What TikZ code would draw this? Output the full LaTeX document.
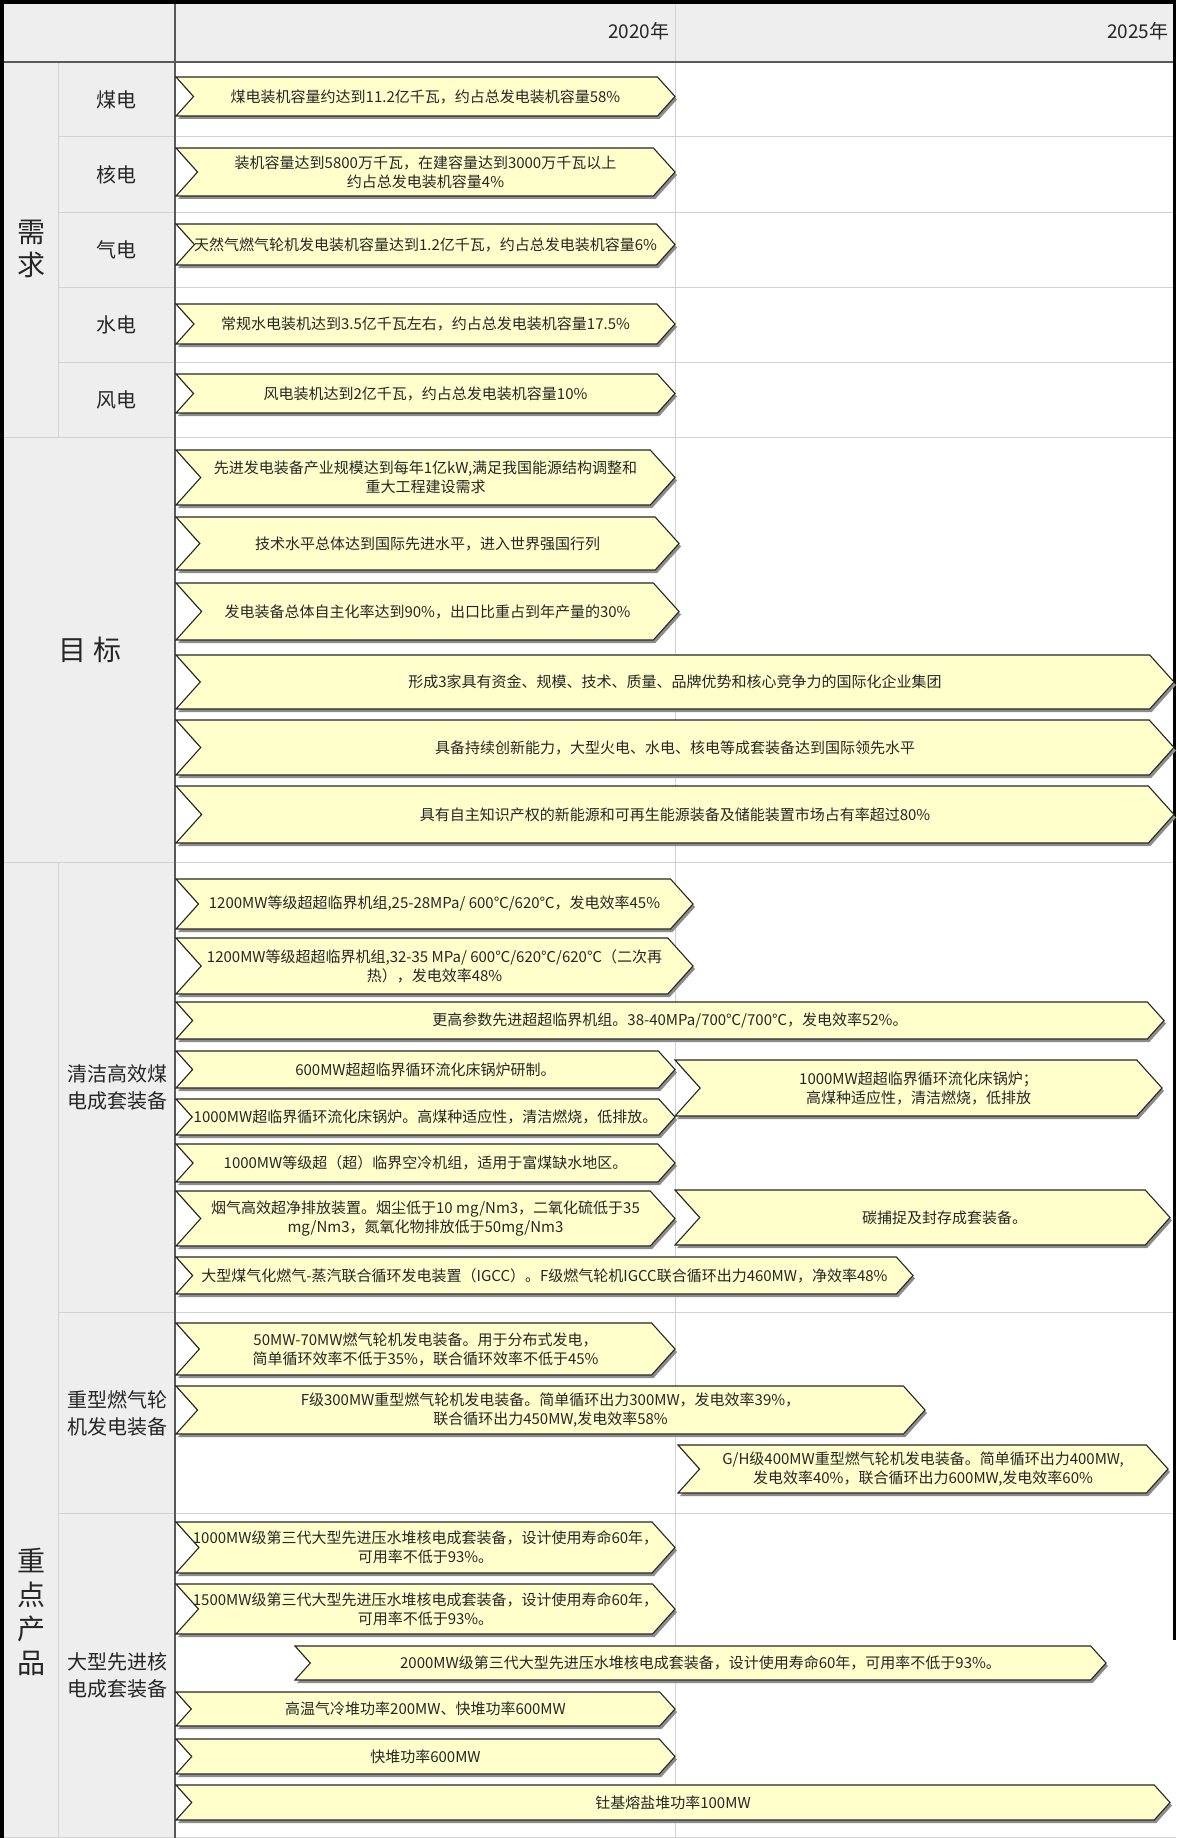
\documentclass[tikz,border=0pt]{standalone}
\usepackage{fontspec}
\setmainfont{Noto Sans CJK SC}
\definecolor{cellgray}{HTML}{EEEEEE}
\definecolor{gridgray}{HTML}{D2D2D2}
\definecolor{baryellow}{HTML}{FFFFCC}
\tikzset{
  barbox/.style={fill=baryellow, draw=black!85, line width=1.1pt, line join=miter},
  barshade/.style={fill=black!45, xshift=2pt, yshift=-3pt},
  bartext/.style={align=center, inner sep=0pt, text=black!85, font=\fontsize{15}{19}\selectfont},
  rowlabel/.style={align=center, text=black!85, font=\fontsize{20}{27}\selectfont},
  seclabel/.style={align=center, text=black!85, font=\fontsize{28}{34}\selectfont},
  yearlabel/.style={anchor=east, text=black!85, font=\fontsize{19}{22}\selectfont},
  gridline/.style={draw=gridgray, line width=1pt},
  mainline/.style={draw=black!65, line width=2pt}
}
% chevron bar: [text options]{name}{x left}{x right}{y top}{y bottom}{text}
\newcommand\chevbar[7][]{%
  \pgfmathsetmacro\cd{0.45*(#6-#5)}%
  \pgfmathsetmacro\cm{(#5+#6)/2}%
  \fill[barshade] (#3,#5) -- ({#4-\cd},#5) -- (#4,\cm) -- ({#4-\cd},#6) -- (#3,#6) -- ({#3+\cd},\cm) -- cycle;
  \draw[barbox] (#3,#5) -- ({#4-\cd},#5) -- (#4,\cm) -- ({#4-\cd},#6) -- (#3,#6) -- ({#3+\cd},\cm) -- cycle;
  \node[bartext,#1] (#2) at ({(#3+#4)/2},\cm) {#7};
}
\begin{document}
\begin{tikzpicture}[x=1pt,y=-1pt]
    \useasboundingbox (0,0) rectangle (1176,1838);
    % Grid
    \fill[white] (0,0) rectangle (1176,1838);
    \fill[cellgray] (0,0) rectangle (1176,62);
    \fill[cellgray] (0,62) rectangle (175,1838);
    \draw[gridline] (58,62) -- (58,437);
    \draw[gridline] (58,862) -- (58,1838);
    \draw[gridline] (675,0) -- (675,1838);
    \foreach \y in {137,212,287,362,1312,1513} {
        \draw[gridline] (58,\y) -- (1176,\y);
    }
    \foreach \y in {437,862,1837} {
        \draw[gridline] (0,\y) -- (1176,\y);
    }
    \draw[mainline] (175,0) -- (175,1838);
    \draw[mainline] (0,62) -- (1176,62);
    \fill[black] (0,0) rectangle (4,1838);
    \fill[black] (0,0) rectangle (1176,4);
    \fill[black] (1173,0) rectangle (1176,1640);

    % Header
    \node[yearlabel] (y2020) at (673,31) {2020年};
    \node[yearlabel] (y2025) at (1172,31) {2025年};

    % Left labels
    \node[seclabel, font=\fontsize{28}{33}\selectfont] (xuqiu) at (31,249) {需\\求};
    \node[seclabel] (mubiao) at (90,650) {目 标};
    \node[seclabel] (zhongdian) at (31,1612) {重\\点\\产\\品};
    \foreach \t [count=\i] in {煤电,核电,气电,水电,风电} {
        \node[rowlabel] (src\i) at (116,{62+75*\i-37.5}) {\t};
    }
    \node[rowlabel] (coal) at (117,1087) {清洁高效煤\\电成套装备};
    \node[rowlabel] (gas) at (117,1413) {重型燃气轮\\机发电装备};
    \node[rowlabel] (nuke) at (117,1675) {大型先进核\\电成套装备};

    % Demand
    \chevbar{dm1}{176}{675}{77}{116}{煤电装机容量约达到11.2亿千瓦，约占总发电装机容量58\%}
    \chevbar{dm2}{176}{675}{148}{196}{装机容量达到5800万千瓦，在建容量达到3000万千瓦以上\\约占总发电装机容量4\%}
    \chevbar{dm3}{176}{675}{224}{265}{天然气燃气轮机发电装机容量达到1.2亿千瓦，约占总发电装机容量6\%}
    \chevbar{dm4}{176}{675}{304}{344}{常规水电装机达到3.5亿千瓦左右，约占总发电装机容量17.5\%}
    \chevbar{dm5}{176}{675}{374}{413}{风电装机达到2亿千瓦，约占总发电装机容量10\%}

    % Goals
    \chevbar{gl1}{176}{675}{450}{505}{先进发电装备产业规模达到每年1亿kW,满足我国能源结构调整和\\重大工程建设需求}
    \chevbar{gl2}{176}{679}{517}{570}{技术水平总体达到国际先进水平，进入世界强国行列}
    \chevbar{gl3}{176}{679}{583}{640}{发电装备总体自主化率达到90\%，出口比重占到年产量的30\%}
    \chevbar{gl4}{176}{1174}{655}{709}{形成3家具有资金、规模、技术、质量、品牌优势和核心竞争力的国际化企业集团}
    \chevbar{gl5}{176}{1174}{720}{775}{具备持续创新能力，大型火电、水电、核电等成套装备达到国际领先水平}
    \chevbar{gl6}{176}{1174}{786}{843}{具有自主知识产权的新能源和可再生能源装备及储能装置市场占有率超过80\%}

    % Clean coal
    \chevbar{cl1}{176}{693}{879}{929}{1200MW等级超超临界机组,25-28MPa/ 600℃/620℃，发电效率45\%}
    \chevbar{cl2}{176}{693}{938}{994}{1200MW等级超超临界机组,32-35 MPa/ 600℃/620℃/620℃（二次再\\热），发电效率48\%}
    \chevbar{cl3}{176}{1164}{1002}{1039}{更高参数先进超超临界机组。38-40MPa/700℃/700℃，发电效率52\%。}
    \chevbar{cl4}{176}{675}{1051}{1088}{600MW超超临界循环流化床锅炉研制。}
    \chevbar{cl5}{176}{675}{1099}{1135}{1000MW超临界循环流化床锅炉。高煤种适应性，清洁燃烧，低排放。}
    \chevbar{cl6}{675}{1162}{1060}{1116}{1000MW超超临界循环流化床锅炉；\\高煤种适应性，清洁燃烧，低排放}
    \chevbar{cl7}{176}{675}{1144}{1182}{1000MW等级超（超）临界空冷机组，适用于富煤缺水地区。}
    \chevbar{cl8}{176}{675}{1191}{1246}{烟气高效超净排放装置。烟尘低于10 mg/Nm3，二氧化硫低于35\\mg/Nm3，氮氧化物排放低于50mg/Nm3}
    \chevbar[xshift=22pt]{cl9}{675}{1170}{1190}{1245}{碳捕捉及封存成套装备。}
    \chevbar{cl10}{176}{913}{1257}{1294}{大型煤气化燃气-蒸汽联合循环发电装置（IGCC）。F级燃气轮机IGCC联合循环出力460MW，净效率48\%}

    % Gas turbine
    \chevbar{gt1}{176}{675}{1323}{1375}{50MW-70MW燃气轮机发电装备。用于分布式发电，\\简单循环效率不低于35\%，联合循环效率不低于45\%}
    \chevbar{gt2}{176}{925}{1386}{1434}{F级300MW重型燃气轮机发电装备。简单循环出力300MW，发电效率39\%，\\联合循环出力450MW,发电效率58\%}
    \chevbar{gt3}{678}{1168}{1445}{1493}{G/H级400MW重型燃气轮机发电装备。简单循环出力400MW,\\发电效率40\%，联合循环出力600MW,发电效率60\%}

    % Nuclear
    \chevbar{nu1}{176}{675}{1522}{1573}{1000MW级第三代大型先进压水堆核电成套装备，设计使用寿命60年，\\可用率不低于93\%。}
    \chevbar{nu2}{176}{675}{1584}{1634}{1500MW级第三代大型先进压水堆核电成套装备，设计使用寿命60年，\\可用率不低于93\%。}
    \chevbar{nu3}{295}{1106}{1646}{1680}{2000MW级第三代大型先进压水堆核电成套装备，设计使用寿命60年，可用率不低于93\%。}
    \chevbar{nu4}{176}{675}{1692}{1726}{高温气冷堆功率200MW、快堆功率600MW}
    \chevbar{nu5}{176}{675}{1739}{1774}{快堆功率600MW}
    \chevbar{nu6}{176}{1170}{1785}{1820}{钍基熔盐堆功率100MW}
\end{tikzpicture}
\end{document}
